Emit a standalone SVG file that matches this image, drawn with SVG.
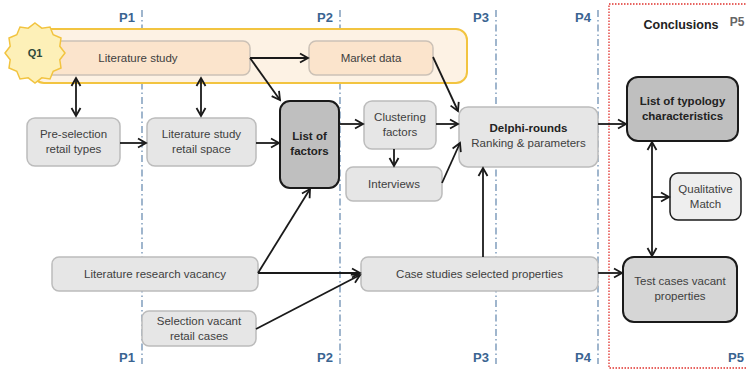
<svg xmlns="http://www.w3.org/2000/svg" width="746" height="371" viewBox="0 0 746 371">
<defs>
<marker id="ah" markerUnits="userSpaceOnUse" markerWidth="12" markerHeight="12" refX="10" refY="6" orient="auto-start-reverse">
<path d="M2,1.5 L10,6 L2,10.5" fill="none" stroke="#1a1a1a" stroke-width="1.8"/>
</marker>
<style>
text{font-family:"Liberation Sans",Arial,sans-serif;font-size:11.5px;fill:#404040;text-anchor:middle;}
.b{font-weight:bold;fill:#222;}
.p{font-weight:bold;fill:#3a6491;font-size:13px;}
.lit{fill:#fbe4cc;stroke:#cbc1b6;stroke-width:1.5;}
.gr{fill:#e6e6e6;stroke:#bcbcbc;stroke-width:1.5;}
.dk{fill:#bfbfbf;stroke:#1a1a1a;stroke-width:2;}
.vl{stroke:#6d8fb3;stroke-width:1.3;stroke-dasharray:7 3 1.5 3;fill:none;}
.c{stroke:#1a1a1a;stroke-width:1.8;fill:none;marker-end:url(#ah);}
</style>
</defs>

<!-- phase lines -->
<g id="phases">
<line class="vl" x1="142" y1="10" x2="142" y2="364"/>
<line class="vl" x1="340" y1="10" x2="340" y2="364"/>
<line class="vl" x1="496" y1="10" x2="496" y2="364"/>
<line class="vl" x1="598" y1="10" x2="598" y2="364"/>
<text class="p" x="127" y="22">P1</text>
<text class="p" x="325" y="22">P2</text>
<text class="p" x="481" y="22">P3</text>
<text class="p" x="583" y="22">P4</text>
<text class="p" x="127" y="362">P1</text>
<text class="p" x="325" y="362">P2</text>
<text class="p" x="481" y="362">P3</text>
<text class="p" x="583" y="362">P4</text>
<text class="p" x="736" y="362">P5</text>
</g>

<!-- conclusions area -->
<g id="conclusions">
<rect x="609" y="4" width="140" height="364" fill="none" stroke="#e0302c" stroke-width="1.3" stroke-dasharray="1.5 1.5"/>
<text x="681" y="29" class="b" style="font-size:12.5px">Conclusions</text>
<text x="737" y="26" style="font-size:12px;font-weight:bold;fill:#666">P5</text>
</g>

<!-- Q1 group -->
<g id="q1">
<rect x="33" y="29" width="434" height="54" rx="11" fill="#fdf2e4" stroke="#f2c440" stroke-width="2"/>
</g>

<g id="lit-study">
<rect class="lit" x="42" y="41" width="208" height="34" rx="7"/>
<text x="138" y="62">Literature study</text>
</g>

<g id="q1-star">
<polygon fill="#fdf0b8" stroke="#f2c440" stroke-width="1.5" points="35,23 41.8,28.2 50,27 53.2,34.8 61,38 59.8,46.2 65,53 59.8,59.8 61,68 53.2,71.2 50,79 41.8,77.8 35,83 28.2,77.8 20,79 16.8,71.2 9,68 10.2,59.8 5,53 10.2,46.2 9,38 16.8,34.8 20,27 28.2,28.2"/>
<text x="35" y="57" class="b" style="font-size:11px;fill:#2d4a3a">Q1</text>
</g>

<g id="market-data">
<rect class="lit" x="309" y="41" width="124" height="34" rx="7"/>
<text x="371" y="62">Market data</text>
</g>

<g id="pre-selection">
<rect class="gr" x="27" y="118" width="93" height="48" rx="8"/>
<text x="73.5" y="138">Pre-selection</text>
<text x="73.5" y="153">retail types</text>
</g>

<g id="lit-retail-space">
<rect class="gr" x="147" y="118" width="109" height="48" rx="8"/>
<text x="201.5" y="138">Literature study</text>
<text x="201.5" y="153">retail space</text>
</g>

<g id="list-of-factors">
<rect class="dk" x="280" y="101" width="59" height="87" rx="10"/>
<text x="309.5" y="140" class="b">List of</text>
<text x="309.5" y="155" class="b">factors</text>
</g>

<g id="clustering">
<rect class="gr" x="364" y="101" width="72" height="48" rx="8"/>
<text x="400" y="121">Clustering</text>
<text x="400" y="136">factors</text>
</g>

<g id="interviews">
<rect class="gr" x="346" y="167" width="96" height="34" rx="7"/>
<text x="394" y="188">Interviews</text>
</g>

<g id="delphi">
<rect class="gr" x="459" y="107" width="139" height="60" rx="9"/>
<text x="528.5" y="132" class="b">Delphi-rounds</text>
<text x="528.5" y="147">Ranking &amp; parameters</text>
</g>

<g id="typology">
<rect class="dk" x="627" y="77" width="111" height="64" rx="11"/>
<text x="682.5" y="105" class="b">List of typology</text>
<text x="682.5" y="120" class="b">characteristics</text>
</g>

<g id="qualitative">
<rect x="670" y="173" width="71" height="47" rx="8" fill="#eeeeee" stroke="#1a1a1a" stroke-width="1.5"/>
<text x="705.5" y="193">Qualitative</text>
<text x="705.5" y="208">Match</text>
</g>

<g id="lit-research-vacancy">
<rect class="gr" x="52" y="257" width="206" height="34" rx="7"/>
<text x="155" y="278">Literature research vacancy</text>
</g>

<g id="selection-vacant">
<rect class="gr" x="142" y="311" width="114" height="35" rx="7"/>
<text x="199" y="325">Selection vacant</text>
<text x="199" y="340">retail cases</text>
</g>

<g id="case-studies">
<rect class="gr" x="361" y="257" width="237" height="34" rx="7"/>
<text x="479.5" y="278">Case studies selected properties</text>
</g>

<g id="test-cases">
<rect x="623" y="257" width="114" height="65" rx="11" fill="#d6d6d6" stroke="#1a1a1a" stroke-width="2"/>
<text x="680" y="285">Test cases vacant</text>
<text x="680" y="300">properties</text>
</g>

<!-- connectors -->
<g id="connectors">
<line class="c" x1="76" y1="116" x2="76" y2="78" style="marker-start:url(#ah)"/>
<line class="c" x1="201" y1="116" x2="201" y2="78" style="marker-start:url(#ah)"/>
<line class="c" x1="120" y1="143" x2="146" y2="143"/>
<line class="c" x1="256" y1="143" x2="279" y2="143"/>
<line class="c" x1="250" y1="58" x2="308" y2="58"/>
<line class="c" x1="250" y1="58" x2="280" y2="100"/>
<line class="c" x1="433" y1="57" x2="458" y2="111"/>
<line class="c" x1="339" y1="124" x2="363" y2="124"/>
<line class="c" x1="436" y1="124" x2="458" y2="124"/>
<line class="c" x1="394" y1="149" x2="394" y2="166"/>
<line class="c" x1="442" y1="183" x2="460" y2="143"/>
<line class="c" x1="598" y1="124" x2="626" y2="124"/>
<line class="c" x1="652" y1="256" x2="652" y2="142" style="marker-start:url(#ah)"/>
<line class="c" x1="652" y1="197" x2="669" y2="197"/>
<line class="c" x1="483" y1="257" x2="483" y2="168"/>
<line class="c" x1="258" y1="273" x2="310" y2="189"/>
<line class="c" x1="258" y1="273" x2="360" y2="273"/>
<line class="c" x1="256" y1="329" x2="360" y2="275"/>
<line class="c" x1="598" y1="273" x2="622" y2="273"/>
</g>
</svg>
